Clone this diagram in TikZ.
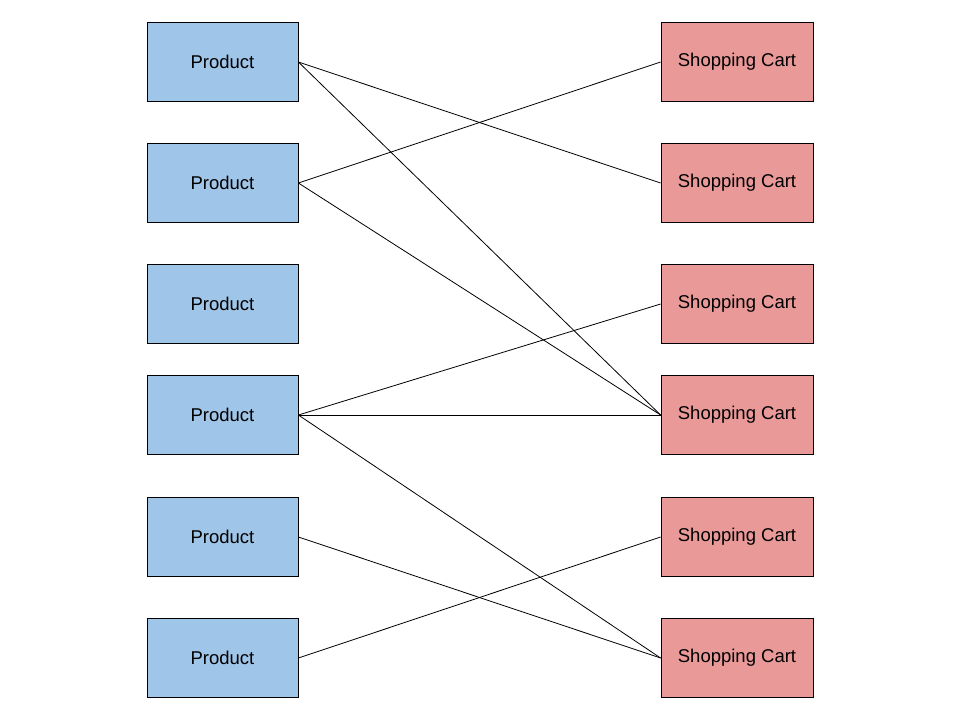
\documentclass[tikz,border=0pt]{standalone}
\usepackage{fontspec}
\setmainfont{Liberation Sans}
\definecolor{pblue}{HTML}{9FC5E8}
\definecolor{cred}{HTML}{EA9999}
\begin{document}
\begin{tikzpicture}[x=1pt,y=-1pt,
  prod/.style={draw=black,fill=pblue,minimum width=151pt,minimum height=79pt,inner sep=0pt,font=\fontsize{18.5}{22}\selectfont,line width=0.8pt},
  cart/.style={draw=black,fill=cred,minimum width=152pt,minimum height=79pt,inner sep=0pt,font=\fontsize{18.5}{22}\selectfont,line width=0.8pt},
  conn/.style={draw=black,line width=0.8pt}]
\useasboundingbox (0,0) rectangle (960,720);
\node[prod] (p1) at (222.5,62) {Product};
\node[prod] (p2) at (222.5,183) {Product};
\node[prod] (p3) at (222.5,304) {Product};
\node[prod] (p4) at (222.5,415) {Product};
\node[prod] (p5) at (222.5,537) {Product};
\node[prod] (p6) at (222.5,658) {Product};
\node[cart] (c1) at (737,62) {Shopping Cart};
\node[cart] (c2) at (737,183) {Shopping Cart};
\node[cart] (c3) at (737,304) {Shopping Cart};
\node[cart] (c4) at (737,415) {Shopping Cart};
\node[cart] (c5) at (737,537) {Shopping Cart};
\node[cart] (c6) at (737,658) {Shopping Cart};
\draw[conn] (p1.east) -- (c2.west);
\draw[conn] (p1.east) -- (c4.west);
\draw[conn] (p2.east) -- (c1.west);
\draw[conn] (p2.east) -- (c4.west);
\draw[conn] (p4.east) -- (c3.west);
\draw[conn] (p4.east) -- (c4.west);
\draw[conn] (p4.east) -- (c6.west);
\draw[conn] (p5.east) -- (c6.west);
\draw[conn] (p6.east) -- (c5.west);
\end{tikzpicture}
\end{document}
